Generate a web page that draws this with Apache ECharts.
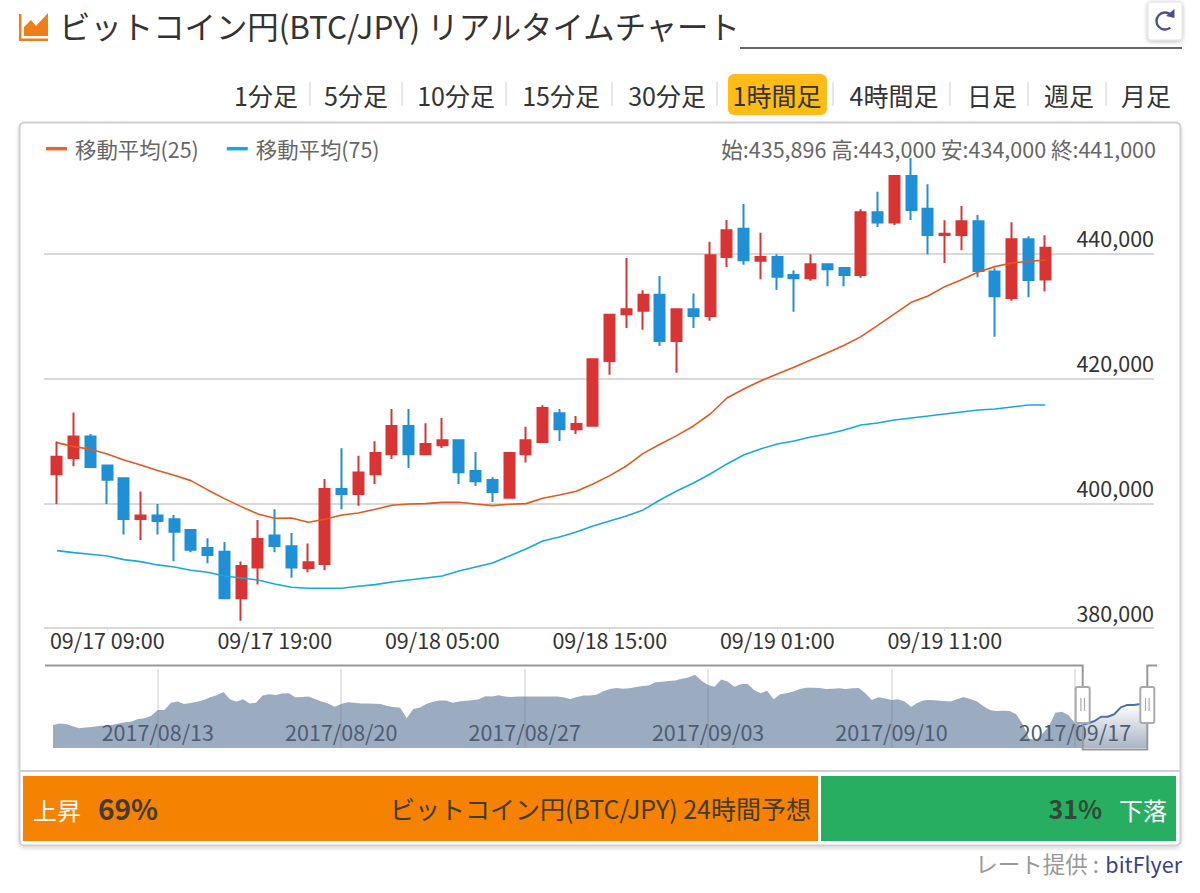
<!DOCTYPE html>
<html lang="ja">
<head>
<meta charset="utf-8">
<style>html,body{margin:0;padding:0;background:#fff}#c{width:1200px;height:893px}</style>
<script src="https://cdn.jsdelivr.net/npm/echarts@6/dist/echarts.min.js"></script>
</head>
<body>
<div id="c"></div>
<script>
const FONT = '"Noto Sans CJK JP","Noto Sans",sans-serif';

const opens  = [404660,407280,410700,406050,404020,397490,398030,397440,395730,392840,392250,384770,389690,394820,393110,389630,390270,402300,401500,404660,
407860,412410,407860,409310,410110,405190,403750,400910,407860,409840,414440,411870,412460,422830,430320,430910,433470,426040,431120,430050,
439520,444060,438930,439520,436630,436090,438340,437750,436630,446680,445030,452510,447270,443050,443050,445240,437170,432940,442350,435896];
const closes = [407490,410700,405830,403800,397490,398030,397170,395460,392570,391720,384770,389950,394280,393160,389690,390540,402300,401500,404930,408080,
412410,407860,409520,410110,404980,403530,401820,408080,410110,415290,411870,412730,423100,430270,431120,433470,426040,431120,430050,439790,
443800,438980,439520,436360,436090,438340,437540,436630,446680,445030,452510,447060,443050,443260,445240,437270,433210,442350,435830,441000];
const lows   = [399900,405940,405830,399900,394980,394120,394980,390700,392150,390380,384770,381180,386960,392150,388080,388940,389260,399040,399630,403110,
407110,405670,407860,408880,403100,402780,400220,400910,406530,409840,410000,411120,412300,420640,428130,427860,425240,420960,428130,429300,
437910,438290,435940,434220,430750,435720,434810,434810,436200,444330,444650,445450,439950,438560,440590,436260,426740,432510,433050,434000];
const highs  = [409900,414550,411130,406210,404020,401880,399900,398130,395730,394390,393800,390650,397330,399040,395250,393540,403910,408830,407650,409950,
415130,415130,412840,413690,410270,408240,404170,408080,412300,415720,415130,414010,423100,430270,439360,434170,436470,431280,433640,441980,
445450,448020,443420,439950,437330,439950,438500,437860,447160,450000,452510,455400,451170,445400,447700,446260,437700,445080,442830,443000];
const ma25 = [409740,409100,408670,407920,406960,406160,405250,404500,403640,402150,400750,399470,398300,397600,397650,396960,397440,398130,398460,399040,
399680,399890,399950,400160,400160,399890,399630,399840,399950,400800,401340,401930,403100,404440,405990,408020,409470,410860,412410,414330,
416900,418350,419630,420750,421820,423000,424170,425350,426740,428560,430380,432250,433260,434760,435880,437110,437970,438560,438820,439040];
const ma75 = [392410,392090,391830,391560,390970,390650,390120,389790,389260,388940,388350,388030,387710,387070,386530,386370,386370,386370,386690,386960,
387390,387710,388030,388350,389150,389800,390440,391560,392680,393970,394610,395410,396370,397170,397980,398940,400540,401980,403270,404710,
406320,407760,408720,409520,410000,410650,411130,411770,412570,412890,413370,413690,414010,414340,414660,414980,415140,415460,415780,415780];
// overview price (thousand yen), one sample per six hours
const overviewValues = [357,363,361,352,344,347,349,353,355,357,363,368,371,381,384,394,417,417,446,450,441,445,449,456,467,475,488,459,449,459,443,446,474,479,476,482,483,467,468,470,460,450,443,430,441,447,
446,443,443,442,441,433,429,426,384,421,427,441,449,454,454,446,450,453,455,459,471,470,475,470,468,470,470,470,470,470,470,470,466,460,468,474,474,478,491,500,504,501,503,508,512,515,
527,529,532,534,541,546,557,533,516,509,538,530,509,519,521,496,483,493,459,479,483,490,500,505,505,504,500,501,503,500,503,504,483,456,467,462,456,459,450,430,446,455,456,454,452,450,
459,468,460,451,433,417,413,414,413,401,361,304,298,322,351,406,410,397,364,357,364,373,390,390,400,427,437,437,441,443];
const sentiment = [69, 31];
const intervalLabels = ['1分足','5分足','10分足','15分足','30分足','1時間足','4時間足','日足','週足','月足'];
const intervalCenters = [266,356,456,561,667,777,894,992,1069,1146];
const intervalSeparators = [310,402,506,612,717,833,950,1028,1106];

const pad = n => String(n).padStart(2,'0');
const categories = [];
for (let i = 0; i < 66; i++) {
  const d = new Date(Date.UTC(2017,8,17,6+i));
  categories.push(pad(d.getUTCMonth()+1)+'/'+pad(d.getUTCDate())+' '+pad(d.getUTCHours())+':00');
}
const overviewCategories = overviewValues.map((_, i) => {
  const d = new Date(Date.UTC(2017,7,9,6*i));
  return d.getUTCFullYear()+'/'+pad(d.getUTCMonth()+1)+'/'+pad(d.getUTCDate());
});
const windowStart = 157;
const outsideSeries = overviewValues.map((v,i)=> i<=windowStart+1 ? v : null);
const windowSeries  = overviewValues.map((v,i)=> i>=windowStart ? v : null);
const candleData = opens.map((o,i)=>[o,closes[i],lows[i],highs[i]]);
const showCandleLabel = i => i%10===3 && i<60;

const RED='#d93434', BLUE='#1f8fd6', TXT='#333', GRAY='#666';
const txt = (x,y,text,o={}) => ({type:'text',x,y,z:o.z||50,style:{text,font:(o.weight||'normal')+' '+(o.size||21.5)+'px '+FONT,fill:o.fill||TXT,align:o.align||'left',verticalAlign:'middle'}});

const graphics = [
  // panel
  {type:'rect',z:-10,shape:{x:19.5,y:122.5,width:1161,height:723,r:5},style:{fill:'#fff',stroke:'#cfcfcf',lineWidth:2,shadowBlur:4,shadowColor:'rgba(0,0,0,.15)',shadowOffsetY:2}},
  {type:'line',z:-9,shape:{x1:20,y1:771,x2:1180,y2:771},style:{stroke:'#cfcfcf',lineWidth:2}},
  // title icon
  {type:'polygon',z:50,shape:{points:[[24,36],[24,27],[31,20],[36,26],[48,13],[48,36]]},style:{fill:'#ee7d1c'}},
  {type:'rect',z:50,shape:{x:19,y:14,width:2.5,height:27},style:{fill:'#ee7d1c'}},
  {type:'rect',z:50,shape:{x:19,y:38.5,width:29,height:2.5},style:{fill:'#ee7d1c'}},
  {type:'line',z:50,shape:{x1:740,y1:48,x2:1182,y2:48},style:{stroke:'#666',lineWidth:2}},
  // refresh button
  {type:'rect',z:40,shape:{x:1148,y:2,width:34,height:38,r:3},style:{fill:'#fff',stroke:'#e2e2e2',lineWidth:1,shadowBlur:4,shadowColor:'rgba(0,0,0,.3)',shadowOffsetY:1}},
  {type:'arc',z:50,shape:{cx:1165,cy:21,r:8.5,startAngle:-0.9,endAngle:0.9,clockwise:false},style:{stroke:'#4a4f8c',lineWidth:2.4,fill:'none'}},
  {type:'polygon',z:50,shape:{points:[[1174.5,9],[1174.5,18],[1166,16]]},style:{fill:'#4a4f8c'}},
  // interval selector
  {type:'rect',z:10,shape:{x:728,y:74,width:99,height:41,r:6},style:{fill:'#fdbd16'}},
  ...intervalSeparators.map(x=>({type:'line',z:10,shape:{x1:x,y1:82,x2:x,y2:106},style:{stroke:'#cfcfcf',lineWidth:1}})),
  ...intervalLabels.map((t,i)=>txt(intervalCenters[i],95,t,{size:25,align:'center'})),
  // candle readout
  txt(1156,148,'始:435,896 高:443,000 安:434,000 終:441,000',{align:'right',fill:GRAY}),
  // navigator
  {type:'polyline',z:60,shape:{points:[[45,665.5],[1082.7,665.5],[1082.7,749.5],[1147.3,749.5],[1147.3,665.5],[1157,665.5]]},style:{stroke:'#999',lineWidth:2,fill:'none'}},
  ...[1082.7,1147.3].flatMap(x=>[
    {type:'rect',z:62,shape:{x:x-7,y:687,width:14,height:36,r:2},style:{fill:'#fff',stroke:'#aaa',lineWidth:2}},
    {type:'line',z:63,shape:{x1:x-1.8,y1:698,x2:x-1.8,y2:711},style:{stroke:'#aaa',lineWidth:1.2}},
    {type:'line',z:63,shape:{x1:x+1.8,y1:698,x2:x+1.8,y2:711},style:{stroke:'#aaa',lineWidth:1.2}}
  ]),
  // sentiment bar
  {type:'rect',z:40,shape:{x:818,y:776,width:3,height:65},style:{fill:'#fff'}},
  txt(33,809,'上昇',{size:24,fill:'#fff'}),
  txt(98,808,sentiment[0]+'%',{size:28,weight:'bold',fill:'#443a2e'}),
  txt(811,808,'ビットコイン円(BTC/JPY) 24時間予想',{size:25,align:'right',fill:'#443a2e'}),
  txt(1102,808,sentiment[1]+'%',{size:25,weight:'bold',align:'right',fill:'#2f4a3a'}),
  txt(1167,809,'下落',{size:24,align:'right',fill:'#fff'}),
  // credit
  txt(1099,863,'レート提供 :',{size:22.5,align:'right',fill:'#999'}),
  txt(1182,863,'bitFlyer',{size:21.5,align:'right',fill:'#3c3f8f'})
];

const chart = echarts.init(document.getElementById('c'),null,{renderer:'svg',width:1200,height:893});
chart.setOption({
  animation:false,
  textStyle:{fontFamily:FONT},
  title:{text:'ビットコイン円(BTC/JPY) リアルタイムチャート',left:59,top:10,padding:0,textStyle:{fontFamily:FONT,fontSize:31.4,fontWeight:'normal',color:TXT}},
  legend:{left:46,top:138,padding:0,data:['移動平均(25)','移動平均(75)'],icon:'rect',itemWidth:21,itemHeight:3.5,itemGap:28,textStyle:{fontFamily:FONT,fontSize:21.4,color:GRAY,padding:[0,0,0,3]}},
  grid:[
    {left:48.6,width:1105.5,top:129.3,height:498.7},
    {left:44,width:1110,top:129.3,height:498.7},
    {left:53,width:1094,top:669,height:79},
    {left:23,width:1153,top:776,height:65}
  ],
  xAxis:[
    {type:'category',gridIndex:0,data:categories,
      axisLine:{show:false},
      axisTick:{show:true,length:3,alignWithLabel:true,interval:showCandleLabel,lineStyle:{color:'#ddd'}},
      axisLabel:{interval:showCandleLabel,fontFamily:FONT,fontSize:21.5,color:TXT,margin:1,hideOverlap:false}},
    {type:'value',gridIndex:1,show:false,min:0,max:1},
    {type:'category',gridIndex:2,data:overviewCategories,boundaryGap:false,z:5,
      axisLine:{show:false},axisTick:{show:false},
      axisLabel:{inside:true,interval:i=>i%28===16,fontFamily:FONT,fontSize:21.5,margin:6,
        color:(v,i)=> i>150?'#333':'#4f5c72'},
      splitLine:{show:true,interval:i=>i%28===16,lineStyle:{color:'rgba(110,110,110,.18)',width:2}}},
    {type:'value',gridIndex:3,show:false,min:0,max:100}
  ],
  yAxis:[
    {type:'value',gridIndex:0,min:380000,max:460000,interval:20000,show:false,splitLine:{show:false}},
    {type:'value',gridIndex:1,position:'right',min:380000,max:460000,interval:20000,
      axisLine:{show:false},axisTick:{show:false},
      axisLabel:{inside:true,margin:0,showMaxLabel:false,fontFamily:FONT,fontSize:21.5,color:TXT,verticalAlign:'bottom',lineHeight:32,
        formatter:v=>v.toLocaleString('en-US')},
      splitLine:{show:true,showMaxLine:false,lineStyle:{color:'#d9d9d9',width:2}}},
    {type:'value',gridIndex:2,min:266,max:579.4,show:false,splitLine:{show:false}},
    {type:'category',gridIndex:3,show:false,data:['予想']}
  ],
  series:[
    {type:'candlestick',name:'BTC/JPY',xAxisIndex:0,yAxisIndex:0,data:candleData,barWidth:10.5,z:3,
      itemStyle:{color:RED,color0:BLUE,borderColor:RED,borderColor0:BLUE,borderWidth:2}},
    {type:'line',name:'移動平均(25)',xAxisIndex:0,yAxisIndex:0,data:ma25,showSymbol:false,z:4,
      lineStyle:{color:'#e4581a',width:1.6},itemStyle:{color:'#e8652a'}},
    {type:'line',name:'移動平均(75)',xAxisIndex:0,yAxisIndex:0,data:ma75,showSymbol:false,z:4,
      lineStyle:{color:'#19a7e2',width:1.6},itemStyle:{color:'#19a7e2'}},
    {type:'line',name:'overview',xAxisIndex:2,yAxisIndex:2,data:outsideSeries,showSymbol:false,z:2,
      lineStyle:{width:0},areaStyle:{color:'#9bacc1',opacity:1}},
    {type:'line',name:'overview window',xAxisIndex:2,yAxisIndex:2,data:windowSeries,showSymbol:false,z:3,
      lineStyle:{color:'#4a72a8',width:2},
      areaStyle:{opacity:1,color:new echarts.graphic.LinearGradient(0,0,0,1,[{offset:0,color:'#ffffff'},{offset:1,color:'#a9b5c5'}])}},
    {type:'bar',name:'上昇',xAxisIndex:3,yAxisIndex:3,stack:'s',barWidth:'100%',data:[sentiment[0]],itemStyle:{color:'#f58200'}},
    {type:'bar',name:'下落',xAxisIndex:3,yAxisIndex:3,stack:'s',barWidth:'100%',data:[sentiment[1]],itemStyle:{color:'#28ae60'}}
  ],
  graphic:{elements:graphics}
});
</script>
</body>
</html>
